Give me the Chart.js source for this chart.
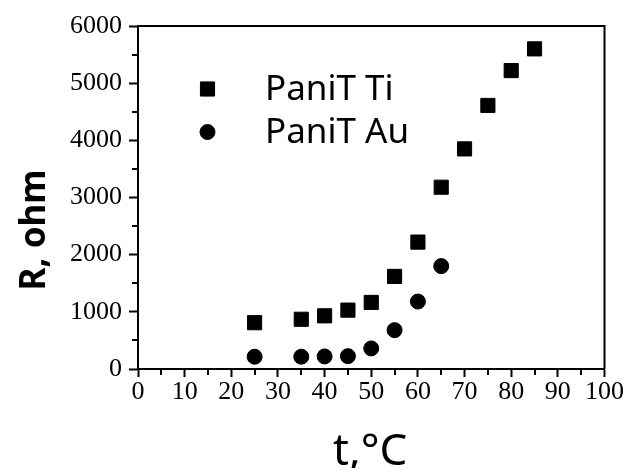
<!DOCTYPE html>
<html>
<head>
<meta charset="utf-8">
<title>R vs t</title>
<script src="https://cdn.jsdelivr.net/npm/chart.js@4.4.1/dist/chart.umd.min.js"></script>
<style>
  html, body { margin: 0; padding: 0; background: #fff; }
  #wrap { width: 624px; height: 468px; }
</style>
</head>
<body>
<div id="wrap"><canvas id="chartR" width="624" height="468"></canvas></div>
<script>
// temperature, deg C
const tempTi = [25, 35, 40, 45, 50, 55, 60, 65, 70, 75, 80, 85];
const tempAu = [25, 35, 40, 45, 50, 55, 60, 65];
// resistance, ohm
const resTi = [810, 870, 930, 1030, 1165, 1620, 2220, 3180, 3850, 4610, 5220, 5600];
const resAu = [215, 215, 220, 225, 360, 680, 1180, 1800];
const seriesNames = ["PaniT Ti", "PaniT Au"];
const xTitle = "t,°C";
const yTitle = "R, ohm";

(function () {
  const el = document.getElementById("chartR");

  function toPoints(xs, ys) {
    return xs.map((x, i) => ({ x: x, y: ys[i] }));
  }

  const tickFont = { family: "'Liberation Serif', 'Times New Roman', serif", size: 26 };

  // majors drawn by the library, minor ticks (every half step) drawn short here
  const frame = {
    id: "frame",
    afterDraw(chart) {
      const ctx = chart.ctx;
      const a = chart.chartArea;
      const xs = chart.scales.x;
      const ys = chart.scales.y;
      ctx.save();
      ctx.strokeStyle = "#000";
      ctx.lineWidth = 2;
      ctx.beginPath();
      ctx.moveTo(a.left, a.top);
      ctx.lineTo(a.right, a.top);
      ctx.lineTo(a.right, a.bottom);
      ctx.stroke();

      ctx.beginPath();
      xs.ticks.forEach((t) => {
        if (t.value % 10 === 0) return;
        const px = Math.round(xs.getPixelForValue(t.value));
        ctx.moveTo(px, a.bottom);
        ctx.lineTo(px, a.bottom + 6);
      });
      ys.ticks.forEach((t) => {
        if (t.value % 1000 === 0) return;
        const py = Math.round(ys.getPixelForValue(t.value));
        ctx.moveTo(a.left, py);
        ctx.lineTo(a.left - 6, py);
      });
      ctx.stroke();

      // axis titles
      ctx.fillStyle = "#000";
      ctx.textAlign = "center";
      ctx.textBaseline = "alphabetic";
      ctx.font = "44px 'Noto Sans', sans-serif";
      ctx.fillText(xTitle, (a.left + a.right) / 2 - 1, 465);

      ctx.save();
      ctx.translate(45, 230);
      ctx.rotate(-Math.PI / 2);
      ctx.font = "bold 35px 'Noto Sans', sans-serif";
      ctx.fillText(yTitle, 0, 0);
      ctx.restore();

      // legend inside the plot
      const rows = [89, 132];
      ctx.font = "35px 'Noto Sans', sans-serif";
      ctx.textAlign = "left";
      chart.data.datasets.forEach((ds, i) => {
        ctx.fillStyle = "#000";
        ctx.strokeStyle = "#000";
        ctx.lineWidth = 1;
        Chart.helpers.drawPoint(ctx, { pointStyle: ds.pointStyle, radius: ds.pointRadius, borderWidth: 1 }, 207.5, rows[i]);
        ctx.fillText(ds.label, 265, rows[i] + 11);
      });
      ctx.restore();
    },
  };

  new Chart(el, {
    type: "scatter",
    data: {
      datasets: [
        {
          label: seriesNames[0],
          data: toPoints(tempTi, resTi),
          pointStyle: "rect",
          pointRadius: 10,
          pointHoverRadius: 10,
          borderWidth: 1,
          backgroundColor: "#000",
          borderColor: "#000",
        },
        {
          label: seriesNames[1],
          data: toPoints(tempAu, resAu),
          pointStyle: "circle",
          pointRadius: 7.5,
          pointHoverRadius: 7.5,
          borderWidth: 1,
          backgroundColor: "#000",
          borderColor: "#000",
        },
      ],
    },
    options: {
      responsive: false,
      animation: false,
      layout: { padding: { top: 26, right: 19, left: 0, bottom: 0 } },
      plugins: { legend: { display: false }, tooltip: { enabled: false } },
      scales: {
        x: {
          type: "linear",
          min: 0,
          max: 100,
          afterFit(scale) {
            scale.height = 99;
          },
          border: { display: true, color: "#000", width: 2 },
          grid: {
            drawOnChartArea: false,
            drawTicks: true,
            tickLength: 8,
            tickWidth: 2,
            tickColor: (c) => (c.tick && c.tick.value % 10 === 0 ? "#000" : "rgba(0,0,0,0)"),
          },
          ticks: {
            stepSize: 5,
            autoSkip: false,
            maxRotation: 0,
            padding: 0,
            color: "#000",
            font: tickFont,
            callback: (v) => (v % 10 === 0 ? String(v) : ""),
          },
        },
        y: {
          type: "linear",
          min: 0,
          max: 6000,
          afterFit(scale) {
            scale.width = 138;
          },
          border: { display: true, color: "#000", width: 2 },
          grid: {
            drawOnChartArea: false,
            drawTicks: true,
            tickLength: 9,
            tickWidth: 2,
            tickColor: (c) => (c.tick && c.tick.value % 1000 === 0 ? "#000" : "rgba(0,0,0,0)"),
          },
          ticks: {
            stepSize: 500,
            autoSkip: false,
            padding: 7,
            color: "#000",
            font: tickFont,
            callback: (v) => (v % 1000 === 0 ? String(v) : ""),
          },
        },
      },
    },
    plugins: [frame],
  });
})();
</script>
</body>
</html>
